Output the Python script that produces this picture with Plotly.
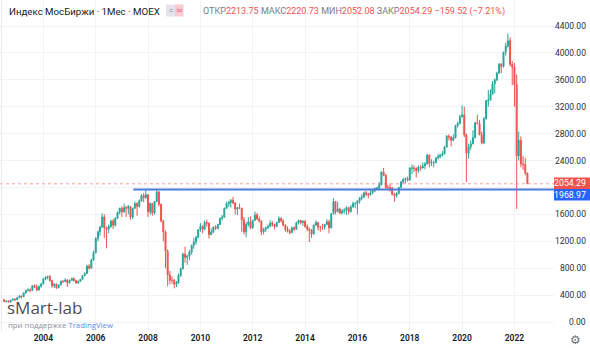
import pandas as pd
import plotly.graph_objects as go

# ---------------- DATA (monthly candles, MOEX index, from Jul 2002) ----------------
start_month = "2002-07-01"

opens = [
    # 2002 Jul-Dec
    330, 305, 312, 296, 325, 340,
    # 2003
    330, 360, 385, 375, 430, 470, 480, 470, 540, 520, 475, 530,
    # 2004
    567, 640, 665, 675, 615, 540, 560, 510, 550, 605, 600, 625,
    # 2005
    580, 620, 645, 615, 580, 605, 635, 690, 720, 830, 800, 920,
    # 2006
    1030, 1240, 1340, 1410, 1560, 1400, 1380, 1420, 1500, 1440, 1540, 1630,
    # 2007
    1690, 1640, 1700, 1690, 1715, 1560, 1690, 1760, 1720, 1800, 1880, 1850,
    # 2008
    1890, 1640, 1760, 1620, 1790, 1930, 1750, 1500, 1340, 1050, 700, 620,
    # 2009
    620, 560, 580, 690, 790, 1010, 960, 980, 1040, 1140, 1190, 1260,
    # 2010
    1370, 1420, 1380, 1480, 1470, 1300, 1340, 1410, 1390, 1450, 1540, 1560,
    # 2011
    1690, 1760, 1780, 1810, 1770, 1680, 1700, 1690, 1520, 1340, 1450, 1490,
    # 2012
    1400, 1510, 1590, 1530, 1500, 1340, 1380, 1400, 1420, 1470, 1450, 1420,
    # 2013
    1480, 1540, 1500, 1440, 1380, 1350, 1330, 1400, 1380, 1470, 1510, 1480,
    # 2014
    1500, 1420, 1380, 1370, 1310, 1440, 1480, 1410, 1410, 1410, 1450, 1490,
    # 2015
    1400, 1610, 1790, 1640, 1680, 1620, 1650, 1660, 1700, 1640, 1710, 1760,
    # 2016
    1760, 1800, 1840, 1860, 1920, 1900, 1890, 1920, 1950, 1980, 1990, 2040,
    # 2017
    2230, 2180, 2000, 2000, 1990, 1900, 1880, 1910, 2000, 2080, 2120, 2130,
    # 2018
    2110, 2290, 2290, 2280, 2250, 2300, 2290, 2320, 2350, 2480, 2360, 2370,
    # 2019
    2370, 2440, 2460, 2480, 2500, 2600, 2760, 2750, 2700, 2740, 2920, 2950,
    # 2020
    3050, 3080, 2780, 2510, 2600, 2650, 2740, 2960, 2950, 2780, 2660, 3020,
    # 2021
    3290, 3300, 3390, 3540, 3600, 3700, 3830, 3800, 4010, 4100, 4180, 3830,
    # 2022 Jan-Jul
    3790, 3530, 2470, 2700, 2350, 2340, 2213.75,
]

highs = [
    345, 320, 318, 330, 345, 352,
    370, 395, 395, 440, 480, 500, 500, 545, 560, 560, 540, 575,
    650, 680, 690, 700, 625, 580, 575, 560, 615, 625, 650, 635,
    630, 660, 665, 630, 615, 640, 700, 740, 850, 860, 940, 1060,
    1260, 1360, 1430, 1615, 1600, 1420, 1450, 1520, 1530, 1560, 1640, 1700,
    1720, 1760, 1730, 1740, 1720, 1700, 1790, 1780, 1820, 1900, 1920, 1960,
    1900, 1780, 1770, 1800, 1970, 1950, 1760, 1520, 1360, 1080, 760, 680,
    640, 610, 720, 810, 1030, 1120, 1000, 1070, 1150, 1250, 1280, 1380,
    1470, 1440, 1510, 1520, 1480, 1390, 1420, 1440, 1460, 1550, 1590, 1700,
    1790, 1800, 1830, 1860, 1780, 1710, 1760, 1700, 1560, 1480, 1560, 1570,
    1520, 1640, 1620, 1570, 1510, 1400, 1420, 1450, 1510, 1500, 1460, 1490,
    1570, 1560, 1530, 1450, 1420, 1380, 1420, 1420, 1490, 1520, 1520, 1510,
    1510, 1450, 1400, 1380, 1450, 1510, 1490, 1430, 1460, 1460, 1530, 1520,
    1620, 1840, 1800, 1790, 1700, 1680, 1690, 1720, 1710, 1740, 1790, 1780,
    1810, 1860, 1900, 1940, 1950, 1920, 1960, 1980, 2000, 2010, 2080, 2240,
    2290, 2200, 2040, 2060, 2010, 1920, 1930, 2010, 2100, 2140, 2150, 2160,
    2300, 2340, 2330, 2300, 2330, 2330, 2370, 2380, 2500, 2490, 2420, 2400,
    2450, 2500, 2500, 2540, 2620, 2780, 2790, 2760, 2790, 2930, 2980, 3080,
    3220, 3200, 2800, 2650, 2700, 2850, 2980, 3080, 3000, 2830, 3050, 3300,
    3450, 3460, 3580, 3620, 3720, 3850, 3850, 4020, 4150, 4290, 4230, 3880,
    3850, 3680, 2830, 2760, 2470, 2440, 2220.73,
]

lows = [
    295, 290, 290, 292, 320, 318,
    328, 355, 350, 370, 425, 455, 440, 465, 505, 455, 470, 510,
    560, 620, 635, 600, 510, 505, 490, 500, 545, 580, 595, 520,
    575, 610, 600, 570, 570, 600, 630, 680, 715, 780, 795, 910,
    1020, 1200, 1280, 1400, 1250, 1095, 1320, 1400, 1380, 1420, 1530, 1600,
    1560, 1620, 1560, 1600, 1520, 1530, 1680, 1580, 1700, 1790, 1780, 1830,
    1560, 1600, 1580, 1600, 1780, 1720, 1480, 1200, 800, 530, 560, 570,
    500, 520, 570, 670, 780, 880, 850, 920, 1000, 1090, 1150, 1240,
    1340, 1320, 1370, 1420, 1240, 1290, 1320, 1370, 1380, 1440, 1510, 1550,
    1680, 1710, 1700, 1750, 1600, 1590, 1680, 1340, 1300, 1260, 1420, 1380,
    1390, 1500, 1520, 1480, 1290, 1300, 1340, 1380, 1410, 1420, 1380, 1410,
    1470, 1480, 1420, 1340, 1330, 1300, 1320, 1350, 1370, 1450, 1450, 1430,
    1400, 1350, 1190, 1250, 1300, 1430, 1360, 1340, 1370, 1370, 1440, 1320,
    1390, 1600, 1600, 1630, 1600, 1600, 1610, 1590, 1600, 1630, 1700, 1690,
    1600, 1760, 1810, 1840, 1870, 1840, 1880, 1900, 1930, 1960, 1970, 2030,
    2170, 1980, 1960, 1940, 1880, 1790, 1850, 1900, 1990, 2060, 2060, 2090,
    2100, 2200, 2230, 2150, 2220, 2250, 2280, 2270, 2340, 2300, 2320, 2300,
    2360, 2420, 2430, 2460, 2490, 2590, 2700, 2610, 2690, 2730, 2890, 2940,
    3040, 2750, 2080, 2430, 2560, 2640, 2730, 2940, 2780, 2640, 2650, 3010,
    3200, 3290, 3380, 3400, 3580, 3690, 3700, 3780, 3960, 4080, 3800, 3520,
    3200, 1681, 2400, 2300, 2260, 2180, 2052.08,
]

closes = [
    305, 312, 296, 325, 340, 330,
    360, 385, 375, 430, 470, 480, 470, 540, 520, 475, 530, 567,
    640, 665, 675, 615, 540, 560, 510, 550, 605, 600, 625, 580,
    620, 645, 615, 580, 605, 635, 690, 720, 830, 800, 920, 1030,
    1240, 1340, 1410, 1560, 1400, 1380, 1420, 1500, 1440, 1540, 1630, 1690,
    1640, 1700, 1690, 1715, 1560, 1690, 1760, 1720, 1800, 1880, 1850, 1890,
    1640, 1760, 1620, 1790, 1930, 1750, 1500, 1340, 1050, 700, 620, 620,
    560, 580, 690, 790, 1010, 960, 980, 1040, 1140, 1190, 1260, 1370,
    1420, 1380, 1480, 1470, 1300, 1340, 1410, 1390, 1450, 1540, 1560, 1690,
    1760, 1780, 1810, 1770, 1680, 1700, 1690, 1520, 1340, 1450, 1490, 1400,
    1510, 1590, 1530, 1500, 1340, 1380, 1400, 1420, 1470, 1450, 1420, 1480,
    1540, 1500, 1440, 1380, 1350, 1330, 1400, 1380, 1470, 1510, 1480, 1500,
    1420, 1380, 1370, 1310, 1440, 1480, 1410, 1410, 1410, 1450, 1490, 1400,
    1610, 1790, 1640, 1680, 1620, 1650, 1660, 1700, 1640, 1710, 1760, 1760,
    1800, 1840, 1860, 1920, 1900, 1890, 1920, 1950, 1980, 1990, 2040, 2230,
    2180, 2000, 2000, 1990, 1900, 1880, 1910, 2000, 2080, 2120, 2130, 2110,
    2290, 2290, 2280, 2250, 2300, 2290, 2320, 2350, 2480, 2360, 2370, 2370,
    2440, 2460, 2480, 2500, 2600, 2760, 2750, 2700, 2740, 2920, 2950, 3050,
    3080, 2780, 2510, 2600, 2650, 2740, 2960, 2950, 2780, 2660, 3020, 3290,
    3300, 3390, 3540, 3600, 3700, 3830, 3800, 4010, 4100, 4180, 3830, 3790,
    3530, 2470, 2700, 2350, 2340, 2213.75, 2054.29,
]

year_ticks = ["2004", "2006", "2008", "2010", "2012", "2014", "2016", "2018", "2020", "2022"]
price_ticks = [0, 400, 800, 1200, 1600, 2000, 2400, 2800, 3200, 3600, 4000, 4400]
price_labels = ["0.00", "400.00", "800.00", "1200.00", "1600.00", "2000.00", "2400.00",
                "2800.00", "3200.00", "3600.00", "4000.00", "4400.00"]
last_close = 2054.29
level = 1968.97
level_start = "2007-06-10"

title_text = "Индекс МосБиржи · 1Мес · MOEX"
ohlc_names = ["ОТКР", "МАКС", "МИН", "ЗАКР"]
ohlc_vals = ["2213.75", "2220.73", "2052.08", "2054.29"]
change_text = "−159.52 (−7.21%)"

# ---------------- FIGURE ----------------
dates = pd.date_range(start_month, periods=len(closes), freq="MS")

W, H = 590, 348
ML, MR, MT, MB = 0, 36, 0, 17
PW = W - ML - MR
PH = H - MT - MB

UP = "#26a69a"
DN = "#ef5350"

fig = go.Figure()
fig.add_trace(go.Candlestick(
    x=dates, open=opens, high=highs, low=lows, close=closes,
    increasing=dict(line=dict(color=UP, width=1), fillcolor=UP),
    decreasing=dict(line=dict(color=DN, width=1), fillcolor=DN),
    whiskerwidth=0, showlegend=False, hoverinfo="skip",
))

def px_x(px):
    return (px - ML) / PW

def px_y(py):
    return 1 - (py - MT) / PH

shapes = []
# last price dotted line
shapes.append(dict(type="line", xref="paper", yref="y", x0=0, x1=1, y0=last_close, y1=last_close,
                   line=dict(color="rgba(239,83,80,0.55)", width=1, dash="dot")))
# horizontal level line
shapes.append(dict(type="line", xref="x", yref="y", x0=level_start, x1="2023-07-07",
                   y0=level, y1=level, line=dict(color="#4a7bd8", width=2)))
# left border
shapes.append(dict(type="line", xref="paper", yref="paper", x0=px_x(1.5), x1=px_x(1.5), y0=0, y1=1,
                   line=dict(color="#e6e8ee", width=1)))
# small header buttons
shapes.append(dict(type="rect", xref="paper", yref="paper", x0=px_x(166), x1=px_x(175),
                   y0=px_y(16.5), y1=px_y(4.5), fillcolor="#e3e5ea", line=dict(width=0)))
shapes.append(dict(type="rect", xref="paper", yref="paper", x0=px_x(175), x1=px_x(183.5),
                   y0=px_y(16.5), y1=px_y(4.5), fillcolor="#f8c9d2", line=dict(width=0)))
# price boxes on the scale (shifted apart like the reference)
shapes.append(dict(type="rect", xref="paper", yref="paper", x0=1, x1=px_x(590),
                   y0=px_y(189), y1=px_y(177.5), fillcolor=DN, line=dict(width=0)))
shapes.append(dict(type="rect", xref="paper", yref="paper", x0=1, x1=px_x(590),
                   y0=px_y(200.5), y1=px_y(189), fillcolor="#2962ff", line=dict(width=0)))

ann = []
FONT = "Roboto, Arial, sans-serif"
# y tick labels (right aligned); 2000.00 is covered by the price boxes
for v, t in zip(price_ticks, price_labels):
    if v == 2000:
        continue
    ann.append(dict(xref="paper", yref="y", x=px_x(587.5), y=v, xanchor="right", yanchor="middle",
                    text=t, showarrow=False, font=dict(size=8.5, color="#2a2e39", family=FONT)))
# price box texts
ann.append(dict(xref="paper", yref="paper", x=px_x(587.5), y=px_y(183.3), xanchor="right", yanchor="middle",
                text="2054.29", showarrow=False, font=dict(size=8.8, color="white", family=FONT)))
ann.append(dict(xref="paper", yref="paper", x=px_x(587.5), y=px_y(194.8), xanchor="right", yanchor="middle",
                text="1968.97", showarrow=False, font=dict(size=8.8, color="white", family=FONT)))
# header title
ann.append(dict(xref="paper", yref="paper", x=px_x(7), y=px_y(11), xanchor="left", yanchor="middle",
                text=title_text, showarrow=False, font=dict(size=9.7, color="#131722", family=FONT)))
ann.append(dict(xref="paper", yref="paper", x=px_x(170.5), y=px_y(10.5), xanchor="center", yanchor="middle",
                text="=", showarrow=False, font=dict(size=8, color="#787b86", family=FONT)))
ann.append(dict(xref="paper", yref="paper", x=px_x(179.3), y=px_y(10.5), xanchor="center", yanchor="middle",
                text="≈", showarrow=False, font=dict(size=8, color="#e0456a", family="DejaVu Sans")))
parts = []
for n, v in zip(ohlc_names, ohlc_vals):
    parts.append(f"<span style='color:#787b86'>{n}</span><span style='color:{DN}'>{v}</span>")
ohlc_html = " ".join(parts) + f" <span style='color:{DN}'>{change_text}</span>"
ann.append(dict(xref="paper", yref="paper", x=px_x(201), y=px_y(11), xanchor="left", yanchor="middle",
                text=ohlc_html, showarrow=False, font=dict(size=9, color="#787b86", family=FONT)))
# watermark
ann.append(dict(xref="paper", yref="paper", x=px_x(5), y=px_y(307.5), xanchor="left", yanchor="middle",
                text="sMart-lab", showarrow=False,
                font=dict(size=17, color="#4e4e4e", family="Open Sans, sans-serif")))
ann.append(dict(xref="paper", yref="paper", x=px_x(6), y=px_y(325), xanchor="left", yanchor="middle",
                text="<span style='color:#8a8e99'>при поддержке </span><span style='color:#5b8cf0'>TradingView</span>",
                showarrow=False, font=dict(size=7.8, family="Open Sans, sans-serif")))
# gear
ann.append(dict(xref="paper", yref="paper", x=px_x(575), y=px_y(340), xanchor="center", yanchor="middle",
                text="⚙", showarrow=False, font=dict(size=12, color="#6a6d78", family="DejaVu Sans")))

fig.update_layout(
    width=W, height=H,
    margin=dict(l=ML, r=MR, t=MT, b=MB, autoexpand=False),
    paper_bgcolor="white", plot_bgcolor="white",
    shapes=shapes, annotations=ann,
    xaxis=dict(type="date", range=["2002-05-06", "2023-07-07"],
               rangeslider=dict(visible=False),
               tickvals=[f"{y}-01-01" for y in year_ticks], ticktext=year_ticks,
               showgrid=True, gridcolor="#f0f2f6", gridwidth=1,
               showline=False, zeroline=False, ticks="",
               tickfont=dict(size=8.5, color="#131722", family=FONT, weight=600)),
    yaxis=dict(range=[-133.8, 4786.7], tickvals=price_ticks, showticklabels=False,
               showgrid=True, gridcolor="#f0f2f6", gridwidth=1, zeroline=False,
               showline=False, ticks="", side="right"),
    hovermode=False,
)

fig.write_html("out.html")
